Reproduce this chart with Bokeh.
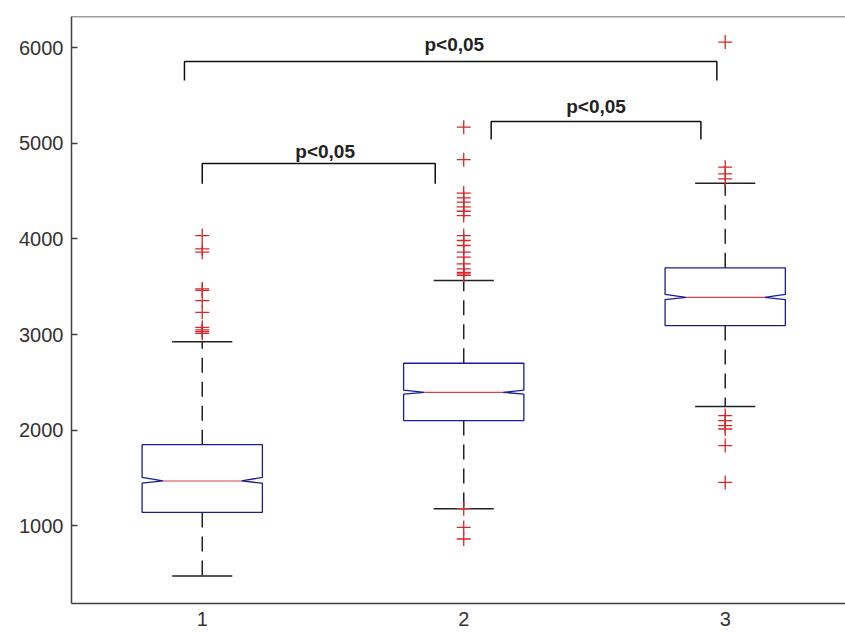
from bokeh.plotting import figure
from bokeh.models import FixedTicker, Span, Range1d
from bokeh.core.properties import value
from bokeh.embed import file_html
from bokeh.resources import INLINE

# ---- data ----
groups = [1, 2, 3]
lower_whisker = [473, 1178, 2246]
q1 = [1139, 2100, 3094]
median = [1468, 2396, 3390]
q3 = [1848, 2700, 3698]
upper_whisker = [2926, 3565, 4584]
notch_lo = [1445, 2376, 3366]
notch_hi = [1505, 2418, 3420]

outliers_1 = [4036, 3897, 3862, 3478, 3462, 3356, 3233, 3076, 3049, 3030, 3013]
outliers_2 = [5170, 4830, 4480, 4430, 4385, 4335, 4290, 4245, 4036, 3984, 3932,
              3862, 3810, 3740, 3688, 3650, 3635, 3620, 1178, 982, 861]
outliers_3 = [6060, 4751, 4682, 4630, 2152, 2100, 2047, 2012, 1838, 1453]

# significance brackets: (left x, right x, top y, leg-bottom y) and labels
bracket_x0 = [1.0, 2.105, 0.932]
bracket_x1 = [1.891, 2.907, 2.968]
bracket_top = [4789, 5229, 5857]
bracket_leg = [4579, 5041, 5658]
label_x = [1.47, 2.506, 1.964]
label_y = [4920, 5390, 6040]
labels = ["p<0,05", "p<0,05", "p<0,05"]

y_ticks = [1000, 2000, 3000, 4000, 5000, 6000]
Y_MIN, Y_MAX = 186, 6328
X_MIN, X_MAX = 0.5, 3.46

HALF_W = 0.23      # half box width (data units)
NOTCH_D = 0.08     # notch indent depth
CAP_HALF = 0.115   # half whisker cap width

p = figure(width=845, height=633, x_range=Range1d(X_MIN, X_MAX), y_range=Range1d(Y_MIN, Y_MAX),
           output_backend="svg", toolbar_location=None,
           min_border_left=71, min_border_right=0, min_border_top=16, min_border_bottom=30)
p.outline_line_color = None
p.grid.visible = False
p.background_fill_color = "white"
p.border_fill_color = "white"

axis_color = "#404040"
for ax in (p.xaxis[0], p.yaxis[0]):
    ax.axis_line_color = axis_color
    ax.axis_line_width = 1.5
    ax.major_tick_line_color = axis_color
    ax.major_tick_line_width = 1.5
    ax.minor_tick_line_color = None
    ax.major_label_text_font = "Liberation Sans"
    ax.major_label_text_font_size = "20px"
    ax.major_label_text_color = "#333333"
    ax.major_label_standoff = 8

p.yaxis.ticker = FixedTicker(ticks=y_ticks)
p.yaxis.major_tick_in = 6
p.yaxis.major_tick_out = 0
p.xaxis.ticker = FixedTicker(ticks=groups)
p.xaxis.major_tick_in = 0
p.xaxis.major_tick_out = 0

p.add_layout(Span(location=Y_MAX, dimension="width", line_color=axis_color, line_width=1.5))

# whiskers (dashed)
wx0, wy0, wx1, wy1 = [], [], [], []
for g, a, b, c, d in zip(groups, q3, upper_whisker, q1, lower_whisker):
    wx0 += [g, g]; wy0 += [a, c]; wx1 += [g, g]; wy1 += [b, d]
p.segment(x0=wx0, y0=wy0, x1=wx1, y1=wy1, line_color="#222222", line_width=1.5, line_dash="15 9")

# caps
cx0, cx1, cy = [], [], []
for g, b, d in zip(groups, upper_whisker, lower_whisker):
    cx0 += [g - CAP_HALF, g - CAP_HALF]; cx1 += [g + CAP_HALF, g + CAP_HALF]; cy += [b, d]
p.segment(x0=cx0, y0=cy, x1=cx1, y1=cy, line_color="#222222", line_width=1.5)

# notched boxes
xs, ys = [], []
for g, lo, nlo, m, nhi, hi in zip(groups, q1, notch_lo, median, notch_hi, q3):
    l, r = g - HALF_W, g + HALF_W
    xs.append([l, l, l + NOTCH_D, l, l, r, r, r - NOTCH_D, r, r, l])
    ys.append([lo, nlo, m, nhi, hi, hi, nhi, m, nlo, lo, lo])
p.patches(xs=xs, ys=ys, fill_color=None, line_color="#1c1c96", line_width=1.3)

# medians
p.segment(x0=[g - HALF_W + NOTCH_D for g in groups], y0=median,
          x1=[g + HALF_W - NOTCH_D for g in groups], y1=median,
          line_color="#e04040", line_width=1.2)

# outliers
for g, outs in zip(groups, [outliers_1, outliers_2, outliers_3]):
    p.scatter(x=[g] * len(outs), y=outs, marker="cross", size=14,
              line_color="#d62828", line_width=1.3)

# significance brackets
bxs = [[a, a, b, b] for a, b in zip(bracket_x0, bracket_x1)]
bys = [[lg, t, t, lg] for t, lg in zip(bracket_top, bracket_leg)]
p.multi_line(xs=bxs, ys=bys, line_color="#111111", line_width=1.5)
p.text(x=label_x, y=label_y, text=labels, text_font=value("Liberation Sans"),
       text_font_style="bold", text_font_size="19px", text_align="center",
       text_baseline="alphabetic", text_color="#222222")

open("out.html", "w").write(file_html(p, INLINE))
